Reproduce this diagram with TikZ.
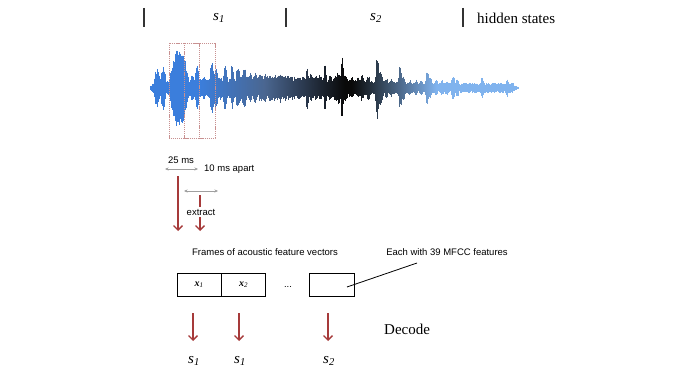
\documentclass[tikz,border=0pt]{standalone}
\usepackage{fontspec}
\setmainfont{Liberation Serif}
\setsansfont{Liberation Sans}
\usetikzlibrary{arrows.meta}
\definecolor{wblue}{HTML}{3B7EDC}
\definecolor{wslate}{HTML}{4A6690}
\definecolor{wlight}{HTML}{80B3EE}
\definecolor{wdark}{HTML}{0A0A0A}
\definecolor{arrred}{HTML}{A63A3A}
\definecolor{boxred}{HTML}{C89090}
\definecolor{tickgray}{HTML}{333333}
\tikzset{
  serif15/.style={font=\fontsize{15}{18}\selectfont, inner sep=1pt},
  sanslab/.style={font=\fontsize{9.5}{11}\sffamily, inner sep=1pt},
  tickline/.style={draw=tickgray, line width=1.2pt},
  wave/.style={line width=0.6pt},
  framebox/.style={draw=boxred, line width=0.7pt, dash pattern=on 1.2pt off 0.9pt},
  garrow/.style={draw=gray!75, line width=0.6pt, {Stealth[length=3.5pt,width=3pt]}-{Stealth[length=3.5pt,width=3pt]}},
  rarrow/.style={draw=arrred, line width=1.4pt, -{Straight Barb[length=4.5pt,width=9pt]}},
  featbox/.style={draw, line width=0.6pt, minimum width=44pt, minimum height=23pt, inner sep=0pt, font=\fontsize{10}{12}\selectfont},
}
\newcommand{\sstate}[1]{\textit{s}\textsubscript{\textit{#1}}}
% one vertical stroke of the waveform at x=#1, up #2, down #3
\newcommand{\wline}[3]{%
  \ifdim#1pt<200pt
    \colorlet{wc}{wblue}%
  \else\ifdim#1pt<265pt
    \pgfmathsetmacro{\wp}{max(0,min(100,(265-#1)/0.65))}\colorlet{wc}{wblue!\wp!wslate}%
  \else\ifdim#1pt<345pt
    \pgfmathsetmacro{\wp}{max(0,min(100,(345-#1)/0.8))}\colorlet{wc}{wslate!\wp!wdark}%
  \else
    \pgfmathsetmacro{\wp}{max(0,min(100,(#1-352)/0.85))}\colorlet{wc}{wlight!\wp!wdark}%
  \fi\fi\fi
  \draw[wave, draw=wc] (#1,88-#2) -- (#1,88+#3);}
\begin{document}
\begin{tikzpicture}[x=1pt, y=-1pt]
\useasboundingbox[fill=white] (0,0) rectangle (700,374);
% top ticks and hidden states
\coordinate (t1a) at (144,8); \coordinate (t1b) at (144,27);
\coordinate (t2a) at (286,8); \coordinate (t2b) at (286,27);
\coordinate (t3a) at (463,8); \coordinate (t3b) at (463,27);
\draw[tickline] (t1a) -- (t1b);
\draw[tickline] (t2a) -- (t2b);
\draw[tickline] (t3a) -- (t3b);
\node[serif15] (hs1) at (219,18) {\sstate{1}};
\node[serif15] (hs2) at (376,18) {\sstate{2}};
\node[serif15, anchor=west] (hidden) at (476,18) {hidden states};
% waveform: base texture
\pgfmathsetseed{11}
\foreach \x in {150,150.5,...,518}{
  \pgfmathsetmacro{\e}{(5+8*max(0,1-abs(\x-270)/150))*min(1,(\x-148)/6)*min(1,(520-\x)/10)}
  \pgfmathsetmacro{\ha}{\e*(0.55+0.45*rnd)}
  \pgfmathsetmacro{\hb}{\e*(0.55+0.45*rnd)}
  \wline{\x}{\ha}{\hb}
}
% waveform: bursts (centre / amplitude / half width)
\foreach \c/\a/\w in {157/14/3, 163/22/2.5, 179/40/8, 187/9/2, 192/10/2, 197/17/2,
  204/9/2, 212/19/2.5, 216/16/2, 220/9/2, 225/17/2, 232/23/1.5, 238/16/2.5,
  244/15/2.5, 250/12/2, 255/12/2, 260/11/2, 265/11/2, 270/11/2, 275/10/2,
  280/11/2, 285/10/2, 290/8/2, 295/8/2, 300/8/2, 307/16/1.5, 311/11/2,
  316/10/2, 320/10/2, 325/27/1.2, 330/10/2, 335/10/2, 338/12/3, 342/33/1.2,
  345/10/3, 352/8/2, 358/8/2, 362/10/2, 368/10/2, 377/33/1.5, 380/13/3,
  386/8/2, 391/7/2, 400/17/1.5, 403/10/2, 410/6/2, 416/6/2, 421/6/2,
  427/14/1.5, 430/8/2, 436/6/2, 442/6/2, 447/6/2, 453/9/2, 457/7/2,
  463/4/2, 469/4/2, 475/4/2, 482/8/1.5, 488/4/2, 494/4/2, 500/4/2,
  507/7/1.5, 512/4/2}{
  \pgfmathsetmacro{\ww}{\w*1.35}
  \pgfmathsetmacro{\aa}{(\a<20) ? \a*1.35 : \a}
  \pgfmathtruncatemacro{\n}{2*\ww}
  \foreach \i in {-\n,...,\n}{
    \pgfmathsetmacro{\xx}{\c+\i/2}
    \pgfmathsetmacro{\f}{\aa*max(0.08,1-(abs(\i/2)/\ww)^2)}
    \pgfmathsetmacro{\ha}{\f*(0.7+0.3*rnd)}
    \pgfmathsetmacro{\hb}{\f*(0.7+0.3*rnd)}
    \wline{\xx}{\ha}{\hb}
  }
}
% frame windows
\draw[framebox] (169,43) rectangle (199,138);
\draw[framebox] (184,43) rectangle (215,138);
% window sizes
\coordinate (w25l) at (165,169); \coordinate (w25r) at (198,169);
\draw[garrow] (w25l) -- (w25r);
\node[sanslab] (l25) at (181,160) {25 ms};
\node[sanslab, anchor=west] (l10) at (203,169) {10 ms apart};
\coordinate (w10l) at (184,191); \coordinate (w10r) at (218,191);
\draw[garrow] (w10l) -- (w10r);
% extract arrows
\coordinate (ra1) at (178,176); \coordinate (rb1) at (178,231);
\draw[rarrow] (ra1) -- (rb1);
\coordinate (ra2) at (200,195); \coordinate (rb2) at (200,231);
\draw[rarrow] (ra2) -- (rb2);
\node[sanslab, fill=white, inner sep=1.5pt] (extract) at (201,212) {extract};
% frames
\node[sanslab] (frames) at (265,252) {Frames of acoustic feature vectors};
\node[sanslab] (each) at (447,252) {Each with 39 MFCC features};
\node[featbox] (f1) at (199,284.5) {\textbf{\textit{x}}\textsubscript{\textit{1}}};
\node[featbox] (f2) at (243.5,284.5) {\textbf{\textit{x}}\textsubscript{\textit{2}}};
\node[sanslab] (dots) at (288,287) {...};
\node[featbox, minimum width=45pt] (f3) at (331.5,284.5) {};
\coordinate (inbox) at (347,287);
\coordinate (lineend) at (417,263);
\draw[line width=0.8pt] (inbox) -- (lineend);
% decode
\coordinate (d1a) at (193,313); \coordinate (d1b) at (193,341);
\coordinate (d2a) at (239,313); \coordinate (d2b) at (239,341);
\coordinate (d3a) at (328,313); \coordinate (d3b) at (328,341);
\draw[rarrow] (d1a) -- (d1b);
\draw[rarrow] (d2a) -- (d2b);
\draw[rarrow] (d3a) -- (d3b);
\node[serif15, anchor=west] (decode) at (383,329) {Decode};
\node[serif15] (o1) at (194,361) {\sstate{1}};
\node[serif15] (o2) at (240,361) {\sstate{1}};
\node[serif15] (o3) at (329,361) {\sstate{2}};
\end{tikzpicture}
\end{document}
